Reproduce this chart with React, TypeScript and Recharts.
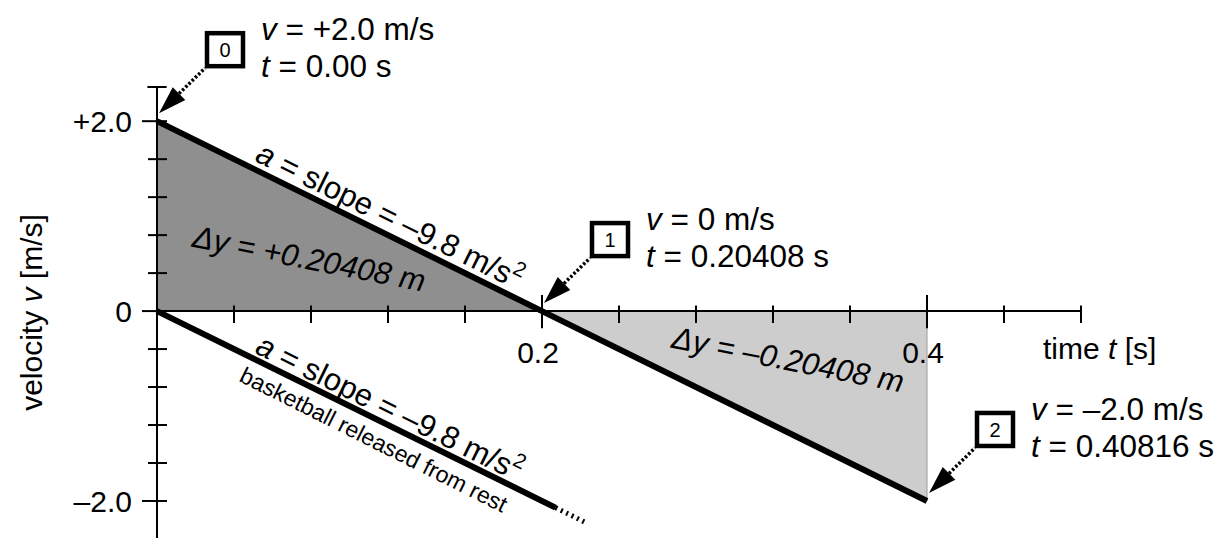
import { ComposedChart, XAxis, YAxis, Area, Line, Scatter, ReferenceLine } from 'recharts';

const FONT = '"Liberation Sans", Arial, Helvetica, sans-serif';

// thrown ball: time [s] and velocity [m/s]
const TIME = [0, 0.2, 0.4];
const VELOCITY = [2.0, 0, -2.0];
const RISING = [2.0, 0, null];
const FALLING = [null, 0, -2.0];

// ball released from rest
const REST_TIME = [0, 0.207];
const REST_VELOCITY = [0, -2.07];
const REST_TAIL_TIME = [0.207, 0.222];
const REST_TAIL_VELOCITY = [-2.07, -2.22];

// axes
const X_MAX = 0.48;
const Y_MIN = -2.39;
const Y_MAX = 2.36;
const X_MINOR_TICKS = [0.04, 0.08, 0.12, 0.16, 0.24, 0.28, 0.32, 0.36, 0.44, 0.48];
const X_MAJOR_TICKS = [0.2, 0.4];
const X_TICK_LABELS = ['0.2', '0.4'];
const Y_TICKS = [-2.0, -1.6, -1.2, -0.8, -0.4, 0, 0.4, 0.8, 1.2, 1.6, 2.0];
const Y_TICK_LABELS: Record<string, string> = { '2': '+2.0', '0': '0', '-2': '–2.0' };

// numbered points
const POINT_NUMBERS = ['0', '1', '2'];
const POINT_V = ['+2.0', '0', '–2.0'];
const POINT_T = ['0.00', '0.20408', '0.40816'];

// displacement labels
const DISPLACEMENTS = ['+0.20408', '–0.20408'];

const chartData = TIME.map((t, i) => ({ t, v: VELOCITY[i], rising: RISING[i], falling: FALLING[i] }));
const restData = REST_TIME.map((t, i) => ({ t, v: REST_VELOCITY[i] }));
const tailData = REST_TAIL_TIME.map((t, i) => ({ t, v: REST_TAIL_VELOCITY[i] }));
const pointData = TIME.map((t, i) => ({
  t,
  v: VELOCITY[i],
  num: POINT_NUMBERS[i],
  vText: POINT_V[i],
  tText: POINT_T[i],
}));
const xLabelData = X_MAJOR_TICKS.map((t, i) => ({ t, v: 0, label: X_TICK_LABELS[i] }));

// where the slanted labels sit (data coordinates)
const slopeLabelAt = [
  { t: 0.1184, v: 0.905 },
  { t: 0.1184, v: -1.116 },
];
const areaLabelAt = [
  { t: 0.078, v: 0.442, text: DISPLACEMENTS[0] },
  { t: 0.3268, v: -0.621, text: DISPLACEMENTS[1] },
];
const noteAt = [{ t: 0.1107, v: -1.43 }];

const LINE_ANGLE = 26.2;
const AREA_ANGLE = 11;

function VelocityTick(props: any) {
  const { y, payload } = props;
  const x = props.x + 8;
  const label = Y_TICK_LABELS[String(payload.value)];
  const major = label !== undefined;
  return (
    <g>
      <line x1={x - (major ? 15 : 9)} x2={x + 10} y1={y} y2={y} stroke="#000" strokeWidth={2} />
      {major && (
        <text x={x - 25} y={y + 11} textAnchor="end" fontSize={30} fontFamily={FONT} fill="#000">
          {label}
        </text>
      )}
    </g>
  );
}

function Callout(props: any) {
  const { cx, cy, payload } = props;
  const tipX = cx + 2;
  const tipY = cy - 8;
  const cornerX = tipX + 46;
  const cornerY = tipY - 45;
  const len = Math.hypot(46, 45);
  const ux = 46 / len;
  const uy = -45 / len;
  const px = -uy;
  const py = ux;
  const bx = tipX + ux * 28;
  const by = tipY + uy * 28;
  const head = `${tipX},${tipY} ${bx + px * 9},${by + py * 9} ${bx - px * 9},${by - py * 9}`;
  const boxTop = cornerY - 37;
  return (
    <g fontFamily={FONT} fill="#000">
      <line x1={bx} y1={by} x2={cornerX} y2={cornerY} stroke="#000" strokeWidth={3.5} strokeDasharray="2.5 2" />
      <polygon points={head} fill="#000" />
      <rect x={cornerX + 2} y={boxTop + 2} width={36} height={33} fill="#fff" stroke="#000" strokeWidth={4.5} />
      <text x={cornerX + 20} y={boxTop + 26} textAnchor="middle" fontSize={20}>
        {payload.num}
      </text>
      <text x={cornerX + 56} y={boxTop + 9} fontSize={31.5}>
        <tspan fontStyle="italic">v</tspan>
        {` = ${payload.vText} m/s`}
      </text>
      <text x={cornerX + 56} y={boxTop + 46} fontSize={31.5}>
        <tspan fontStyle="italic">t</tspan>
        {` = ${payload.tText} s`}
      </text>
    </g>
  );
}

function SlopeLabel(props: any) {
  const { cx, cy } = props;
  return (
    <text
      transform={`translate(${cx},${cy}) rotate(${LINE_ANGLE})`}
      textAnchor="middle"
      fontSize={31}
      fontFamily={FONT}
      fill="#000"
    >
      <tspan fontStyle="italic">a</tspan>
      {' = slope = –9.8 m/s'}
      <tspan dy={-13} fontSize={21}>
        2
      </tspan>
    </text>
  );
}

function AreaLabel(props: any) {
  const { cx, cy, payload } = props;
  return (
    <text
      transform={`translate(${cx},${cy}) rotate(${AREA_ANGLE})`}
      textAnchor="middle"
      fontSize={31}
      fontStyle="italic"
      fontFamily={FONT}
      fill="#000"
    >
      {`Δy = ${payload.text} m`}
    </text>
  );
}

function NoteLabel(props: any) {
  const { cx, cy } = props;
  return (
    <text
      transform={`translate(${cx},${cy}) rotate(${LINE_ANGLE + 0.4})`}
      textAnchor="middle"
      fontSize={23}
      fontFamily={FONT}
      fill="#000"
    >
      basketball released from rest
    </text>
  );
}

function TimeTickLabel(props: any) {
  const { cx, cy, payload } = props;
  return (
    <text x={cx - 4} y={cy + 52} textAnchor="middle" fontSize={30} fontFamily={FONT} fill="#000">
      {payload.label}
    </text>
  );
}

function TimeAxisTitle(props: any) {
  const vb = props.viewBox || {};
  const x = (vb.x ?? 157) + (vb.width ?? 924) - 38;
  const y = (vb.y ?? 311) + 48;
  return (
    <text x={x} y={y} fontSize={30} fontFamily={FONT} fill="#000">
      {'time '}
      <tspan fontStyle="italic">t</tspan>
      {' [s]'}
    </text>
  );
}

function VelocityAxisTitle(props: any) {
  const vb = props.viewBox || {};
  const x = (vb.x ?? 97) + (vb.width ?? 60) - 115;
  const y = (vb.y ?? 87) + (vb.height ?? 451) / 2;
  return (
    <text
      transform={`translate(${x},${y}) rotate(-90)`}
      textAnchor="middle"
      fontSize={30}
      fontFamily={FONT}
      fill="#000"
    >
      {'velocity '}
      <tspan fontStyle="italic">v</tspan>
      {' [m/s]'}
    </text>
  );
}

export default function App() {
  return (
    <div style={{ position: 'absolute', left: 0, top: 0, background: '#fff' }}>
      <ComposedChart
        width={1222}
        height={538}
        data={chartData}
        margin={{ top: 87, right: 141, bottom: 0, left: 97 }}
      >
        <XAxis type="number" dataKey="t" domain={[0, X_MAX]} hide />
        <YAxis
          type="number"
          domain={[Y_MIN, Y_MAX]}
          ticks={Y_TICKS}
          interval={0}
          width={60}
          tickSize={8}
          tickMargin={0}
          tickLine={false}
          axisLine={{ stroke: '#000', strokeWidth: 2 }}
          tick={VelocityTick}
          label={VelocityAxisTitle}
        />

        <Area
          type="linear"
          dataKey="rising"
          baseValue={0}
          fill="#8f8f8f"
          fillOpacity={1}
          stroke="none"
          isAnimationActive={false}
        />
        <Area
          type="linear"
          dataKey="falling"
          baseValue={0}
          fill="#cdcdcd"
          fillOpacity={1}
          stroke="none"
          isAnimationActive={false}
        />
        <ReferenceLine
          segment={[
            { x: TIME[2], y: 0 },
            { x: TIME[2], y: VELOCITY[2] },
          ]}
          stroke="#9a9a9a"
          strokeWidth={1}
        />

        <ReferenceLine y={0} stroke="#000" strokeWidth={2} label={TimeAxisTitle} />
        {X_MINOR_TICKS.map((t) => (
          <ReferenceLine
            key={`minor-${t}`}
            segment={[
              { x: t, y: 0.06 },
              { x: t, y: -0.125 },
            ]}
            stroke="#000"
            strokeWidth={2}
            ifOverflow="visible"
          />
        ))}
        {X_MAJOR_TICKS.map((t) => (
          <ReferenceLine
            key={`major-${t}`}
            segment={[
              { x: t, y: 0.17 },
              { x: t, y: -0.18 },
            ]}
            stroke="#000"
            strokeWidth={2}
            ifOverflow="visible"
          />
        ))}
        <ReferenceLine
          segment={[
            { x: -0.005, y: Y_MAX },
            { x: 0.005, y: Y_MAX },
          ]}
          stroke="#000"
          strokeWidth={2}
          ifOverflow="visible"
        />

        <Line
          type="linear"
          dataKey="v"
          stroke="#000"
          strokeWidth={6}
          dot={false}
          activeDot={false}
          isAnimationActive={false}
        />
        <Line
          type="linear"
          data={restData}
          dataKey="v"
          stroke="#000"
          strokeWidth={6}
          dot={false}
          activeDot={false}
          isAnimationActive={false}
        />
        <Line
          type="linear"
          data={tailData}
          dataKey="v"
          stroke="#000"
          strokeWidth={5}
          strokeDasharray="2 4"
          dot={false}
          activeDot={false}
          isAnimationActive={false}
        />

        <Scatter data={xLabelData} dataKey="v" shape={TimeTickLabel} isAnimationActive={false} />
        <Scatter data={slopeLabelAt} dataKey="v" shape={SlopeLabel} isAnimationActive={false} />
        <Scatter data={areaLabelAt} dataKey="v" shape={AreaLabel} isAnimationActive={false} />
        <Scatter data={noteAt} dataKey="v" shape={NoteLabel} isAnimationActive={false} />
        <Scatter data={pointData} dataKey="v" shape={Callout} isAnimationActive={false} />
      </ComposedChart>
    </div>
  );
}
